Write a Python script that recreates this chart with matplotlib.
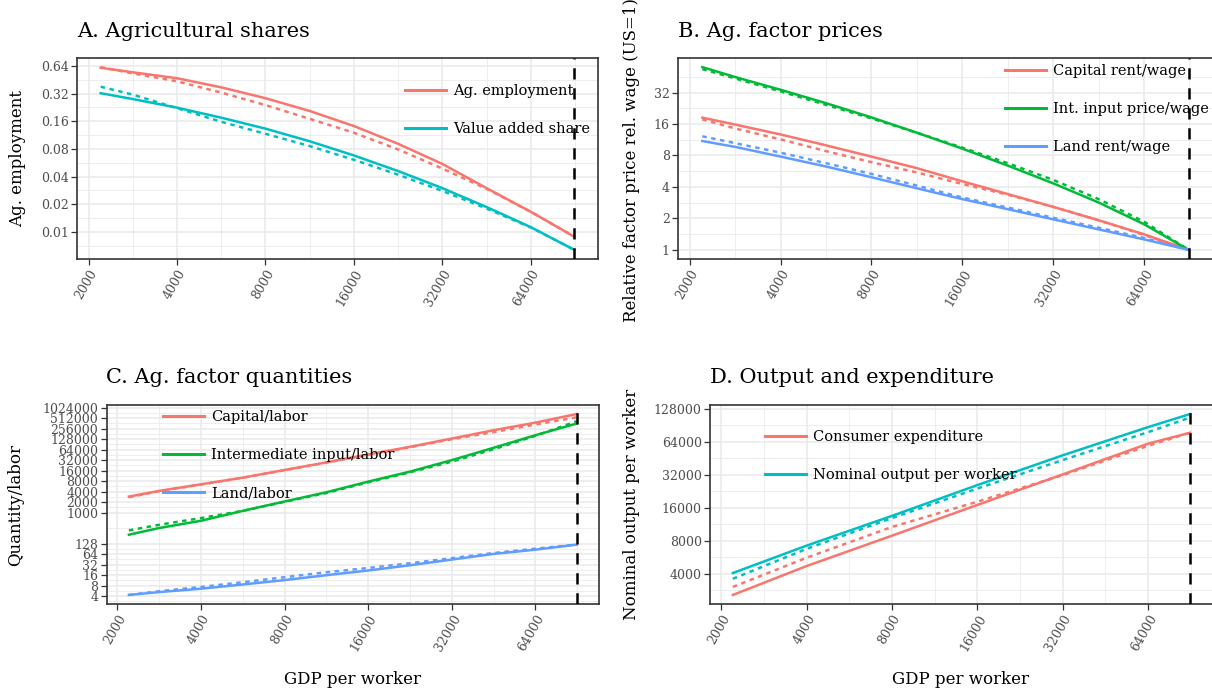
import numpy as np
import matplotlib
matplotlib.use("Agg")
import matplotlib.pyplot as plt
from matplotlib.ticker import NullFormatter

plt.rcParams["font.family"] = ["DejaVu Serif"]

# ── Data ─────────────────────────────────────────────────────────────────────
gdp = [2200, 2828, 4000, 5657, 8000, 11314, 16000, 22627, 32000, 45255,
       64000, 90000]
gdp_d = [2200, 4000, 8000, 16000, 32000, 64000, 90000]
us_gdp = 90000

# A. agricultural shares (solid = model, dashed = fitted)
ag_emp_model = [0.61, 0.545, 0.47, 0.374, 0.285, 0.207, 0.142, 0.091, 0.055,
                0.030, 0.0166, 0.0089]
ag_emp_fit = [0.62, 0.53, 0.435, 0.328, 0.24, 0.17, 0.120, 0.079, 0.049,
              0.0295, 0.0166, 0.0089]
va_share_model = [0.323, 0.279, 0.225, 0.175, 0.133, 0.097, 0.068, 0.046,
                  0.030, 0.0187, 0.0113, 0.0064]
va_share_fit = [0.38, 0.312, 0.222, 0.158, 0.117, 0.086, 0.061, 0.042, 0.028,
                0.0180, 0.0112, 0.0064]

# B. factor prices relative to wage (US = 1)
cap_rent_model = [18.4, 15.8, 12.7, 10.0, 7.8, 6.05, 4.53, 3.42, 2.58, 1.92,
                  1.41, 1.0]
cap_rent_fit = [17.7, 14.5, 11.4, 8.8, 6.9, 5.5, 4.27, 3.37, 2.58, 1.92,
                1.39, 1.0]
int_price_model = [56, 45, 34, 25.3, 18.5, 13.2, 9.3, 6.4, 4.33, 2.84, 1.76,
                   1.0]
int_price_fit = [53.7, 43.6, 32.8, 24.4, 18.1, 13.2, 9.5, 6.75, 4.67, 3.06,
                 1.86, 1.0]
land_rent_model = [11.0, 9.66, 7.8, 6.27, 4.95, 3.88, 3.06, 2.45, 1.96, 1.57,
                   1.26, 1.0]
land_rent_fit = [12.2, 10.5, 8.5, 6.75, 5.33, 4.12, 3.17, 2.54, 2.03, 1.63,
                 1.3, 1.0]

# C. factor quantities per worker
kl_model = [2880, 4190, 6480, 10080, 16700, 27600, 46700, 77400, 134000,
            232000, 383000, 676000]
kl_fit = [2750, 4100, 6400, 10000, 16500, 27300, 46000, 75000, 128000,
          205000, 340000, 545000]
xl_model = [231, 360, 581, 1120, 2080, 3830, 7750, 15000, 32100, 72600,
            167000, 360000]
xl_fit = [308, 446, 694, 1120, 2040, 3650, 7400, 14400, 29000, 66000,
          160000, 420000]
ll_model = [4.3, 5.2, 6.5, 8.6, 11.5, 15.9, 21.7, 30.7, 44.7, 65, 86, 120]
ll_fit = [4.3, 5.5, 7.3, 10.0, 13.9, 19.3, 25.6, 35, 49, 69, 92, 120]

# D. output and expenditure
cons_model = [2560, 4700, 8900, 17000, 32300, 61700, 77600]
cons_fit = [3030, 5600, 10700, 18200, 31800, 59000, 77600]
nom_model = [4060, 7220, 13500, 25800, 48300, 87400, 115000]
nom_fit = [3600, 6750, 12900, 24000, 43700, 78600, 107000]

x_breaks = [2000, 4000, 8000, 16000, 32000, 64000]
yA_breaks = [0.01, 0.02, 0.04, 0.08, 0.16, 0.32, 0.64]
yB_breaks = [1, 2, 4, 8, 16, 32]
yC_breaks = [4, 8, 16, 32, 64, 128, 1000, 2000, 4000, 8000, 16000, 32000,
             64000, 128000, 256000, 512000, 1024000]
yD_breaks = [4000, 8000, 16000, 32000, 64000, 128000]

RED, CYAN, GREEN, BLUE = "#F8766D", "#00BFC4", "#00BA38", "#619CFF"
W, H = 1212, 691

fig = plt.figure(figsize=(W / 100, H / 100), dpi=100)


def px_axes(l, r, t, b):
    return fig.add_axes([l / W, 1 - b / H, (r - l) / W, (b - t) / H])


def expand_log(lo, hi, mult=0.05):
    a, b = np.log2(lo), np.log2(hi)
    d = (b - a) * mult
    return 2 ** (a - d), 2 ** (b + d)


def minor_between(breaks, lim):
    lb = np.log2(breaks)
    pts = list((lb[:-1] + lb[1:]) / 2)
    pts = [lb[0] - (lb[1] - lb[0]) / 2] + pts + [lb[-1] + (lb[-1] - lb[-2]) / 2]
    vals = [2 ** p for p in pts]
    return [v for v in vals if lim[0] < v < lim[1]]


def style(ax, ybreaks, ylabels, ylim):
    ax.set_xscale("log", base=2)
    ax.set_yscale("log", base=2)
    xlim = expand_log(min(gdp), max(gdp))
    ax.set_xlim(xlim)
    ax.set_ylim(ylim)
    ax.set_xticks(x_breaks)
    ax.set_xticklabels([str(b) for b in x_breaks], rotation=60,
                       ha="right", va="top", rotation_mode="anchor")
    ax.set_xticks(minor_between(x_breaks, xlim), minor=True)
    ax.set_yticks(ybreaks)
    ax.set_yticklabels(ylabels)
    ax.set_yticks(minor_between(ybreaks, ylim), minor=True)
    ax.xaxis.set_minor_formatter(NullFormatter())
    ax.yaxis.set_minor_formatter(NullFormatter())
    ax.tick_params(which="major", length=4, width=0.9, color="#333333",
                   labelsize=9, labelcolor="#4D4D4D", pad=2)
    ax.tick_params(which="minor", length=0)
    ax.grid(which="major", color="#EBEBEB", lw=1.2)
    ax.grid(which="minor", color="#EBEBEB", lw=0.6)
    ax.set_axisbelow(True)
    for s in ax.spines.values():
        s.set_color("#333333")
        s.set_linewidth(1.2)
    ax.axvline(us_gdp, color="black", lw=1.8, ls=(0, (4.5, 3.5)), zorder=6)


def curve(ax, x, y_model, y_fit, color, label):
    ax.plot(x, y_fit, color=color, lw=1.8, ls=(0, (1.8, 1.8)))
    ax.plot(x, y_model, color=color, lw=1.8, label=label)


def legend(ax, x, y):
    leg = ax.legend(loc="upper left", bbox_to_anchor=(x, y), frameon=False,
                    fontsize=10.5, handlelength=2.8, handletextpad=0.5,
                    labelspacing=1.65, borderpad=0, borderaxespad=0)
    for h in leg.get_lines():
        h.set_linewidth(2.2)
    leg.set_zorder(3)


# ── A. Agricultural shares ───────────────────────────────────────────────────
axA = px_axes(77, 598, 58, 259)
curve(axA, gdp, ag_emp_model, ag_emp_fit, RED, "Ag. employment")
curve(axA, gdp, va_share_model, va_share_fit, CYAN, "Value added share")
style(axA, yA_breaks, [f"{b:g}" for b in yA_breaks],
      expand_log(min(va_share_model), max(ag_emp_fit)))
legend(axA, 0.63, 0.87)

# ── B. Ag. factor prices ─────────────────────────────────────────────────────
axB = px_axes(678, 1213, 58, 259)
curve(axB, gdp, cap_rent_model, cap_rent_fit, RED, "Capital rent/wage")
curve(axB, gdp, int_price_model, int_price_fit, GREEN, "Int. input price/wage")
curve(axB, gdp, land_rent_model, land_rent_fit, BLUE, "Land rent/wage")
style(axB, yB_breaks, [str(b) for b in yB_breaks],
      expand_log(1.0, max(int_price_model)))
legend(axB, 0.611, 0.97)

# ── C. Ag. factor quantities ─────────────────────────────────────────────────
axC = px_axes(106.5, 599, 405, 604)
curve(axC, gdp, kl_model, kl_fit, RED, "Capital/labor")
curve(axC, gdp, xl_model, xl_fit, GREEN, "Intermediate input/labor")
curve(axC, gdp, ll_model, ll_fit, BLUE, "Land/labor")
style(axC, yC_breaks, [str(b) for b in yC_breaks],
      expand_log(min(ll_model), max(kl_model)))
legend(axC, 0.115, 0.975)

# ── D. Output and expenditure ────────────────────────────────────────────────
axD = px_axes(710, 1213, 405, 604)
curve(axD, gdp_d, cons_model, cons_fit, RED, "Consumer expenditure")
curve(axD, gdp_d, nom_model, nom_fit, CYAN, "Nominal output per worker")
style(axD, yD_breaks, [str(b) for b in yD_breaks],
      expand_log(min(cons_model), max(nom_model)))
legend(axD, 0.109, 0.875)

# ── Titles and axis labels ───────────────────────────────────────────────────
def ftext(x, y, s, **kw):
    fig.text(x / W, 1 - y / H, s, **kw)


title_kw = dict(fontsize=15, ha="left", va="baseline", color="black")
ftext(77, 37, "A. Agricultural shares", **title_kw)
ftext(678, 37, "B. Ag. factor prices", **title_kw)
ftext(106.5, 383, "C. Ag. factor quantities", **title_kw)
ftext(710, 383, "D. Output and expenditure", **title_kw)

lab_kw = dict(fontsize=12, ha="center", va="center", rotation=90)
ftext(18, 158.5, "Ag. employment", **lab_kw)
ftext(631, 160, "Relative factor price rel. wage (US=1)", **lab_kw)
ftext(16, 504.5, "Quantity/labor", **lab_kw)
ftext(631, 504.5, "Nominal output per worker", **lab_kw)

ftext(353, 680, "GDP per worker", fontsize=12, ha="center", va="center")
ftext(961, 680, "GDP per worker", fontsize=12, ha="center", va="center")

fig.savefig("out.png", dpi=100)
